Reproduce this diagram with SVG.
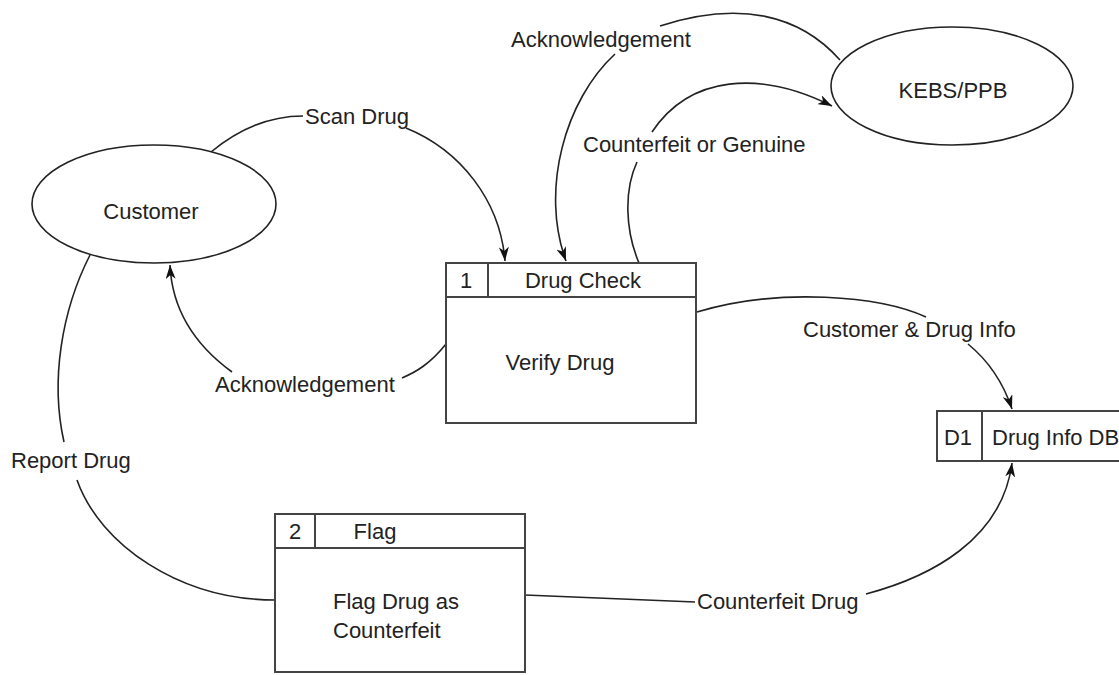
<svg xmlns="http://www.w3.org/2000/svg" width="1119" height="675" viewBox="0 0 1119 675">
<defs>
<style>
text{font-family:"Liberation Sans",Arial,sans-serif;font-size:22px;fill:#222}
.c{text-anchor:middle}
.ent{fill:#fff;stroke:#222;stroke-width:1.6}
.box{fill:#fff;stroke:#444;stroke-width:2}
.ln{fill:none;stroke:#222;stroke-width:1.6}
</style>
<marker id="ah" viewBox="0 0 14 10" refX="14" refY="5" markerWidth="14" markerHeight="10" markerUnits="userSpaceOnUse" orient="auto">
<path d="M0,0 L14,5 L0,10 L4,5 z" fill="#111"/>
</marker>
</defs>
<rect width="1119" height="675" fill="#fff"/>
<g id="connectors">
<path class="ln" d="M211,152 C240,128 270,116 303,116"/>
<path class="ln" d="M406,128 C460,150 500,200 505,261" marker-end="url(#ah)"/>
<path class="ln" d="M840,60 C800,15 740,0 660,26"/>
<path class="ln" d="M615,54 C565,100 540,190 566,261" marker-end="url(#ah)"/>
<path class="ln" d="M639,263 C625,230 624,190 637,162"/>
<path class="ln" d="M652,132 C690,75 760,70 832,106" marker-end="url(#ah)"/>
<path class="ln" d="M697,312 C780,287 880,296 926,317"/>
<path class="ln" d="M968,344 C990,362 1004,385 1012,409" marker-end="url(#ah)"/>
<path class="ln" d="M446,344 C430,364 416,372 402,378"/>
<path class="ln" d="M232,372 C195,345 172,310 170,265" marker-end="url(#ah)"/>
<path class="ln" d="M90,255 C62,310 50,380 64,442"/>
<path class="ln" d="M77,480 C100,545 180,600 275,600"/>
<path class="ln" d="M525,595 L695,602"/>
<path class="ln" d="M866,594 C930,577 1002,540 1012,463" marker-end="url(#ah)"/>
<text x="305" y="124">Scan Drug</text>
<text x="511" y="47">Acknowledgement</text>
<text x="583" y="152">Counterfeit or Genuine</text>
<text x="803" y="337">Customer &amp; Drug Info</text>
<text x="215" y="392">Acknowledgement</text>
<text x="11" y="468">Report Drug</text>
<text x="697" y="609">Counterfeit Drug</text>
</g>
<g id="customer">
<ellipse class="ent" cx="154" cy="204" rx="122" ry="59"/>
<text class="c" x="151" y="219">Customer</text>
</g>
<g id="kebs">
<ellipse class="ent" cx="952" cy="86" rx="121" ry="59"/>
<text class="c" x="953" y="98">KEBS/PPB</text>
</g>
<g id="p1">
<rect class="box" x="446" y="263" width="250" height="160"/>
<line class="box" x1="446" y1="297" x2="696" y2="297"/>
<line class="box" x1="488" y1="263" x2="488" y2="297"/>
<text class="c" x="466" y="288">1</text>
<text class="c" x="583" y="288">Drug Check</text>
<text class="c" x="560" y="370">Verify Drug</text>
</g>
<g id="p2">
<rect class="box" x="275" y="514" width="250" height="158"/>
<line class="box" x1="275" y1="548" x2="525" y2="548"/>
<line class="box" x1="315" y1="514" x2="315" y2="548"/>
<text class="c" x="295" y="539">2</text>
<text class="c" x="375" y="539">Flag</text>
<text x="333" y="609">Flag Drug as</text>
<text x="333" y="638">Counterfeit</text>
</g>
<g id="d1">
<rect class="box" x="937" y="411" width="200" height="50"/>
<line class="box" x1="982" y1="411" x2="982" y2="461"/>
<text class="c" x="958" y="445">D1</text>
<text x="992" y="445">Drug Info DB</text>
</g>
</svg>
